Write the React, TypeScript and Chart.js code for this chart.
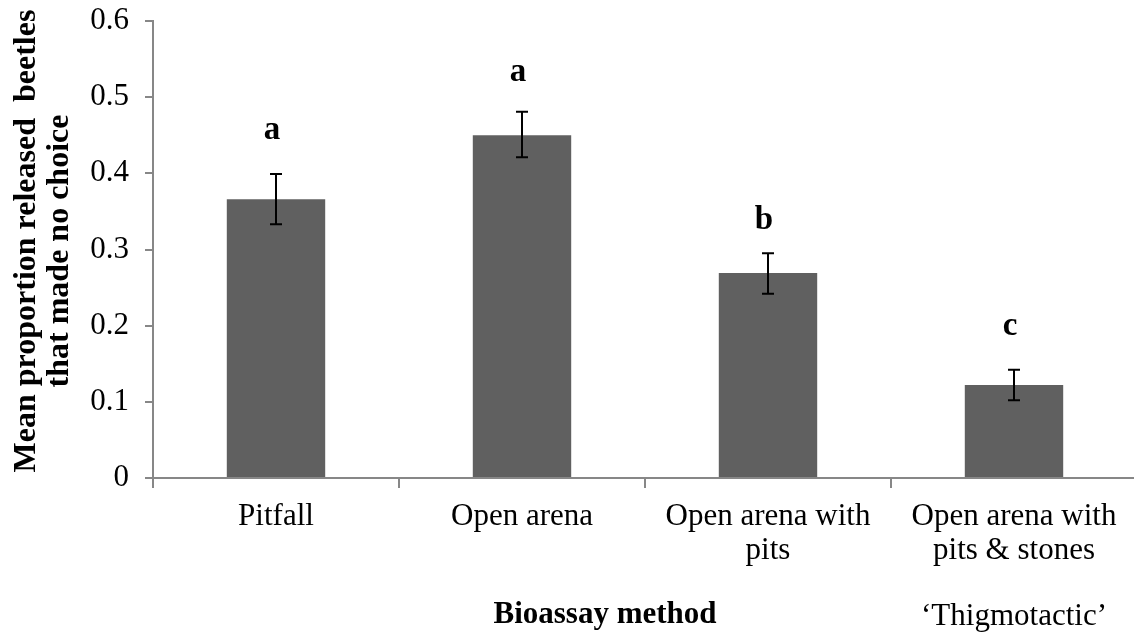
import React, { useEffect, useRef } from 'react';
import { Chart, registerables } from 'chart.js';

Chart.register(...registerables);

// ---- data ----
const categories: string[][] = [
  ['Pitfall'],
  ['Open arena'],
  ['Open arena with', 'pits'],
  ['Open arena with', 'pits & stones'],
];
const means = [0.366, 0.45, 0.269, 0.122];
const errLow = [0.333, 0.421, 0.242, 0.102];
const errHigh = [0.399, 0.481, 0.295, 0.142];
const sigLetters = ['a', 'a', 'b', 'c'];
const letterBaselines = [0.445, 0.521, 0.327, 0.188];
const yTickLabels = ['0', '0.1', '0.2', '0.3', '0.4', '0.5', '0.6'];
const yTitleLines = ['Mean proportion released  beetles', 'that made no choice'];
const xTitle = 'Bioassay method';
const groupNote = '\u2018Thigmotactic\u2019';

const FONT = '"Liberation Serif", "Times New Roman", serif';
const AXIS_COLOR = '#878787';

const overlayPlugin = {
  id: 'overlay',
  afterDatasetsDraw(chart: any) {
    const ctx = chart.ctx;
    const xs = chart.scales.x;
    const ys = chart.scales.y;
    ctx.save();
    ctx.strokeStyle = '#000';
    ctx.lineWidth = 2;
    for (let i = 0; i < means.length; i++) {
      const x = xs.getPixelForValue(i);
      const yl = ys.getPixelForValue(errLow[i]);
      const yh = ys.getPixelForValue(errHigh[i]);
      ctx.beginPath();
      ctx.moveTo(x, yl);
      ctx.lineTo(x, yh);
      ctx.moveTo(x - 6, yl);
      ctx.lineTo(x + 6, yl);
      ctx.moveTo(x - 6, yh);
      ctx.lineTo(x + 6, yh);
      ctx.stroke();
    }
    ctx.fillStyle = '#000';
    ctx.font = `bold 33px ${FONT}`;
    ctx.textAlign = 'center';
    ctx.textBaseline = 'alphabetic';
    for (let i = 0; i < sigLetters.length; i++) {
      const x = xs.getPixelForValue(i) - 4;
      const y = ys.getPixelForValue(letterBaselines[i]);
      ctx.fillText(sigLetters[i], x, y);
    }
    ctx.restore();
  },
  afterDraw(chart: any) {
    const ctx = chart.ctx;
    ctx.save();
    ctx.fillStyle = '#000';
    ctx.textAlign = 'center';
    ctx.textBaseline = 'alphabetic';
    ctx.font = `bold 32px ${FONT}`;
    const yPos = [
      [35, 241],
      [68, 251],
    ];
    yTitleLines.forEach((line, i) => {
      ctx.save();
      ctx.translate(yPos[i][0], yPos[i][1]);
      ctx.rotate(-Math.PI / 2);
      ctx.fillText(line, 0, 0);
      ctx.restore();
    });
    ctx.font = `bold 31px ${FONT}`;
    ctx.fillText(xTitle, 605, 623);
    ctx.font = `31px ${FONT}`;
    ctx.fillText(groupNote, chart.scales.x.getPixelForValue(3), 625);
    ctx.restore();
  },
};

export default function App() {
  const ref = useRef<HTMLCanvasElement | null>(null);
  useEffect(() => {
    if (!ref.current) return;
    const chart = new Chart(ref.current, {
      type: 'bar',
      data: {
        labels: categories,
        datasets: [
          {
            data: means,
            backgroundColor: '#606060',
            borderWidth: 0,
            barPercentage: 0.4,
            categoryPercentage: 1,
          },
        ],
      },
      options: {
        animation: false,
        responsive: false,
        maintainAspectRatio: false,
        devicePixelRatio: 1,
        layout: { padding: { top: 21, right: 23, bottom: 0, left: 0 } },
        plugins: {
          legend: { display: false },
          tooltip: { enabled: false },
        },
        scales: {
          x: {
            afterFit: (s: any) => {
              s.height = 154;
              s.paddingLeft = 0;
              s.paddingRight = 0;
            },
            grid: {
              display: true,
              drawOnChartArea: false,
              drawTicks: true,
              tickLength: 10,
              color: AXIS_COLOR,
              lineWidth: 2,
              offset: true,
            },
            border: { display: true, color: AXIS_COLOR, width: 2 },
            ticks: {
              color: '#000',
              padding: 12,
              maxRotation: 0,
              autoSkip: false,
              font: { family: FONT, size: 31, lineHeight: 34 / 31 },
            },
          },
          y: {
            min: 0,
            max: 0.6,
            afterFit: (s: any) => {
              s.width = 153;
              s.paddingTop = 0;
              s.paddingBottom = 0;
            },
            grid: {
              display: true,
              drawOnChartArea: false,
              drawTicks: true,
              tickLength: 8,
              color: AXIS_COLOR,
              lineWidth: 2,
            },
            border: { display: true, color: AXIS_COLOR, width: 2 },
            ticks: {
              stepSize: 0.1,
              color: '#000',
              padding: 16,
              font: { family: FONT, size: 31 },
              callback: (_v: any, i: number) => yTickLabels[i],
            },
          },
        },
      },
      plugins: [overlayPlugin],
    });
    return () => chart.destroy();
  }, []);

  return (
    <div
      style={{
        position: 'fixed',
        left: 0,
        top: 0,
        width: 1134,
        height: 632,
        overflow: 'hidden',
        background: '#fff',
      }}
    >
      <canvas ref={ref} width={1160} height={632} style={{ display: 'block' }} />
    </div>
  );
}
